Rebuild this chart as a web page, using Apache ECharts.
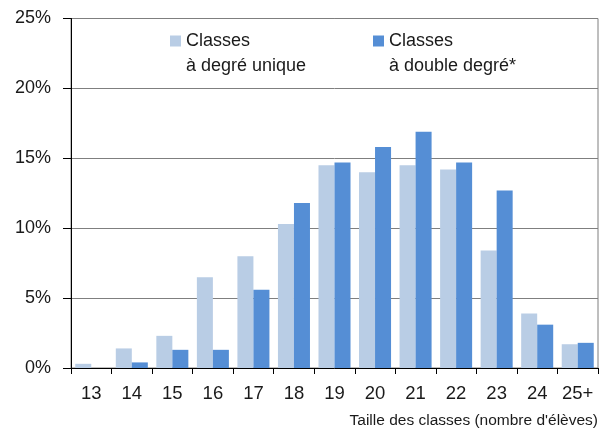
<!DOCTYPE html>
<html>
<head>
<meta charset="utf-8">
<script src="https://cdn.jsdelivr.net/npm/echarts@6/dist/echarts.min.js"></script>
<style>
  html, body { margin: 0; padding: 0; background: #fff; }
  #chart { width: 607px; height: 432px; }
</style>
</head>
<body>
<div id="chart"></div>
<script>
  // tailles de classe
  var categories = ['13', '14', '15', '16', '17', '18', '19', '20', '21', '22', '23', '24', '25+']
  // % de classes, degre unique / double degre
  var degreUnique = [0.3, 1.4, 2.3, 6.5, 8.0, 10.3, 14.5, 14.0, 14.5, 14.2, 8.4, 3.9, 1.7]
  var doubleDegre = [0, 0.4, 1.3, 1.3, 5.6, 11.8, 14.7, 15.8, 16.9, 14.7, 12.7, 3.1, 1.8]
  var yTicks = [0, 5, 10, 15, 20, 25]

  var nameUnique = 'Classes\nà degré unique'
  var nameDouble = 'Classes\nà double degré*'

  var font = 'Liberation Sans, Arial, sans-serif'
  var myChart = echarts.init(document.getElementById('chart'))

  var legendText = {
    fontFamily: font,
    fontSize: 18,
    color: '#1a1a1a',
    lineHeight: 25
  }
  // ligne vide devant : l'icone tombe sur la 1re ligne du texte
  var legendFormatter = function(name) {
    return '\n' + name
  }

  var option = {
    backgroundColor: '#fff',
    animation: false,
    grid: {
      left: 71,
      right: 9,
      top: 18.5,
      bottom: 64,
      show: true,
      borderColor: '#7f7f7f',
      borderWidth: 1,
      outerBoundsMode: 'none'
    },
    legend: [{
      data: [nameUnique],
      left: 165,
      top: -1.5,
      itemWidth: 11,
      itemHeight: 11,
      icon: 'rect',
      itemGap: 5,
      formatter: legendFormatter,
      textStyle: legendText
    }, {
      data: [nameDouble],
      left: 368,
      top: -1.5,
      itemWidth: 11,
      itemHeight: 11,
      icon: 'rect',
      formatter: legendFormatter,
      textStyle: legendText
    }],
    xAxis: {
      type: 'category',
      data: categories,
      boundaryGap: true,
      name: "Taille des classes (nombre d'élèves)",
      nameLocation: 'end',
      nameGap: 0,
      nameTextStyle: {
        fontFamily: font,
        fontSize: 15.5,
        color: '#1a1a1a',
        align: 'right',
        verticalAlign: 'top',
        padding: [45, 0, 0, 0]
      },
      axisLine: { show: true, lineStyle: { color: '#000', width: 1 } },
      axisTick: { show: true, interval: 0, alignWithLabel: false, length: 6, lineStyle: { color: '#000' } },
      axisLabel: {
        interval: 0,
        margin: 16,
        fontFamily: font,
        fontSize: 18.5,
        color: '#1a1a1a'
      },
      splitLine: { show: false }
    },
    yAxis: {
      type: 'value',
      min: yTicks[0],
      max: yTicks[yTicks.length - 1],
      interval: yTicks[1] - yTicks[0],
      axisLine: { show: true, lineStyle: { color: '#000', width: 1 } },
      axisTick: { show: true, length: 8, lineStyle: { color: '#000' } },
      axisLabel: {
        margin: 20,
        fontFamily: font,
        fontSize: 18,
        color: '#1a1a1a',
        formatter: '{value}%'
      },
      splitLine: { show: true, lineStyle: { color: '#7f7f7f', width: 1 } }
    },
    series: [{
      name: nameUnique,
      type: 'bar',
      barGap: '0%',
      barCategoryGap: '21%',
      itemStyle: { color: '#b9cde5' },
      data: degreUnique
    }, {
      name: nameDouble,
      type: 'bar',
      barGap: '0%',
      barCategoryGap: '21%',
      itemStyle: { color: '#558ed5' },
      data: doubleDegre
    }]
  }
  myChart.setOption(option)
</script>
</body>
</html>
